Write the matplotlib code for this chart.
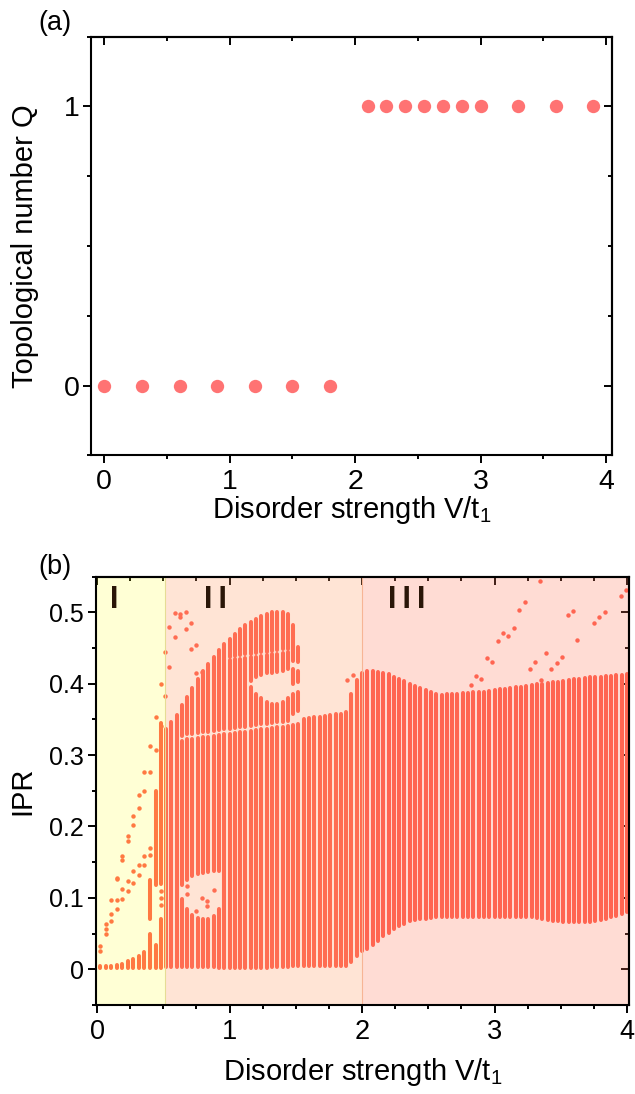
import numpy as np
import matplotlib
matplotlib.use("Agg")
import matplotlib.pyplot as plt
from matplotlib.ticker import MultipleLocator, NullFormatter, FuncFormatter

plt.rcParams["font.family"] = ["Liberation Sans", "DejaVu Sans"]
plt.rcParams["mathtext.fontset"] = "custom"
plt.rcParams["mathtext.rm"] = "Liberation Sans"
plt.rcParams["mathtext.default"] = "regular"

# ---- panel (a): topological number ----
va = [0, 0.3, 0.6, 0.9, 1.2, 1.5, 1.8, 2.1, 2.25, 2.4, 2.55, 2.7, 2.85, 3.0, 3.3, 3.6, 3.9]
qa = [0, 0, 0, 0, 0, 0, 0, 1, 1, 1, 1, 1, 1, 1, 1, 1, 1]

# ---- panel (b): IPR ----
# region I columns (small V)
reg1_x = [0.025, 0.067, 0.108, 0.15, 0.192, 0.233, 0.275, 0.317, 0.358, 0.40, 0.442, 0.484]
reg1_lo = [0.002, 0.002, 0.002, 0.002, 0.002, 0.002, 0.002, 0.002, 0.002, 0.002, 0.002, 0.002]
reg1_hi = [0.004, 0.004, 0.005, 0.006, 0.008, 0.011, 0.015, 0.019, 0.024, 0.05, 0.034, 0.07]
# extra column pieces in region I
ext_x = [0.40, 0.442, 0.484]
ext_lo = [0.07, 0.118, 0.12]
ext_hi = [0.125, 0.25, 0.345]

# main band, one column every 0.04 from 0.52 to 4.00
band_lo = [0.003, 0.003, 0.003, 0.003, 0.003, 0.003, 0.003, 0.003, 0.003, 0.003,
           0.002, 0.002, 0.002, 0.002, 0.002, 0.002, 0.002, 0.002, 0.002, 0.002,
           0.003, 0.003, 0.003, 0.003, 0.004, 0.004, 0.004, 0.004, 0.004, 0.004,
           0.004, 0.004, 0.004, 0.005, 0.005,
           0.010, 0.018, 0.025, 0.029, 0.034, 0.040, 0.046, 0.051, 0.056, 0.060,
           0.064, 0.067, 0.069, 0.070, 0.071, 0.072,
           0.073, 0.073, 0.073, 0.073, 0.073, 0.073, 0.073, 0.073, 0.073, 0.073,
           0.073, 0.073, 0.073, 0.073, 0.073, 0.073, 0.073, 0.073, 0.073,
           0.072, 0.070, 0.069, 0.068, 0.067, 0.066, 0.066, 0.066, 0.066, 0.066,
           0.066, 0.067, 0.069, 0.071, 0.073, 0.075, 0.078, 0.080]
band_hi = [0.337, 0.347, 0.356,
           0.320, 0.322, 0.323, 0.324, 0.325, 0.326, 0.327, 0.328, 0.329, 0.330,
           0.331, 0.332, 0.333, 0.334, 0.335, 0.336, 0.337, 0.338, 0.339, 0.340,
           0.341, 0.342, 0.343, 0.350,
           0.352, 0.353, 0.354, 0.355, 0.356, 0.357, 0.358, 0.360,
           0.385, 0.405, 0.415, 0.418, 0.418, 0.417, 0.415, 0.413, 0.410, 0.407,
           0.404, 0.400, 0.397, 0.394, 0.391, 0.388, 0.385, 0.384,
           0.385, 0.386, 0.386, 0.387, 0.387, 0.388, 0.388, 0.389, 0.390, 0.391,
           0.392, 0.393, 0.394, 0.395, 0.396, 0.397, 0.398, 0.399, 0.400, 0.401,
           0.402, 0.403, 0.404, 0.405, 0.406, 0.407, 0.408, 0.409, 0.410, 0.410,
           0.411, 0.411, 0.412, 0.412, 0.413]
band_x = np.round(0.52 + 0.04 * np.arange(len(band_lo)), 2)

# dome above the band (0.64 .. 1.52)
dome_x = [0.64, 0.68, 0.72, 0.76, 0.80, 0.84, 0.88, 0.92, 0.96, 1.00, 1.04, 1.08,
          1.12, 1.16, 1.20, 1.24, 1.28, 1.32, 1.36, 1.40, 1.44, 1.48, 1.52]
dome_lo = [0.327, 0.329, 0.330, 0.331, 0.332, 0.333, 0.334, 0.335, 0.336, 0.337,
           0.338, 0.339, 0.340, 0.341, 0.342, 0.343, 0.344, 0.345, 0.346, 0.347,
           0.348, 0.358, 0.362]
dome_hi = [0.370, 0.382, 0.394, 0.406, 0.418, 0.428, 0.438, 0.447, 0.455, 0.462,
           0.469, 0.476, 0.482, 0.487, 0.491, 0.495, 0.498, 0.500, 0.501, 0.501,
           0.497, 0.482, 0.452]

# empty stretches inside columns (V, from, to)
gap_x = [0.64, 0.68, 0.72, 0.76, 0.80, 0.84, 0.88, 0.92,
         1.16, 1.20, 1.24, 1.28, 1.32, 1.36, 1.40, 1.44,
         1.00, 1.04, 1.08, 1.12, 1.16, 1.20, 1.24, 1.28, 1.32, 1.36, 1.40, 1.44,
         1.48, 1.48, 1.52, 1.52]
gap_lo = [0.098, 0.085, 0.076, 0.072, 0.070, 0.070, 0.074, 0.085,
          0.395, 0.386, 0.380, 0.375, 0.372, 0.372, 0.375, 0.380,
          0.433, 0.434, 0.435, 0.436, 0.437, 0.438, 0.439, 0.440, 0.441, 0.442, 0.443, 0.444,
          0.385, 0.420, 0.388, 0.418]
gap_hi = [0.118, 0.125, 0.130, 0.133, 0.135, 0.136, 0.137, 0.137,
          0.404, 0.410, 0.412, 0.415, 0.415, 0.417, 0.418, 0.420,
          0.438, 0.439, 0.440, 0.441, 0.442, 0.443, 0.444, 0.445, 0.446, 0.447, 0.448, 0.449,
          0.400, 0.432, 0.402, 0.430]

# isolated states
out_x = [0.025, 0.025, 0.067, 0.067, 0.067, 0.108, 0.108, 0.108, 0.15, 0.15, 0.15, 0.15,
         0.192, 0.192, 0.192, 0.192, 0.233, 0.233, 0.233, 0.233, 0.275, 0.275, 0.275, 0.275,
         0.317, 0.317, 0.317, 0.317, 0.358, 0.358, 0.358, 0.358, 0.40, 0.40, 0.40, 0.40,
         0.442, 0.442, 0.484, 0.484, 0.484, 0.484, 0.484,
         0.51, 0.51, 0.545, 0.545, 0.59, 0.59, 0.63, 0.63, 0.67, 0.67, 0.71, 0.71,
         0.75, 0.75, 0.79,
         0.677, 0.677, 0.79, 0.83, 0.83, 0.88, 0.75,
         1.89, 1.93,
         2.82, 2.857, 2.90, 2.942, 2.982, 3.023, 3.062, 3.102, 3.146, 3.188, 3.228,
         3.265, 3.305, 3.346, 3.348, 3.388, 3.429, 3.471, 3.511, 3.553, 3.589, 3.621,
         3.747, 3.79, 3.835, 3.955, 3.99]
out_y = [0.026, 0.032, 0.049, 0.057, 0.064, 0.067, 0.077, 0.097, 0.085, 0.097, 0.126, 0.128,
         0.098, 0.112, 0.153, 0.158, 0.110, 0.123, 0.179, 0.187, 0.121, 0.137, 0.202, 0.215,
         0.132, 0.146, 0.226, 0.244, 0.146, 0.158, 0.250, 0.276, 0.160, 0.170, 0.276, 0.313,
         0.307, 0.353, 0.341, 0.399, 0.090, 0.100, 0.110,
         0.444, 0.383, 0.424, 0.480, 0.499, 0.465, 0.497, 0.493, 0.500, 0.477, 0.485, 0.448,
         0.454, 0.415, 0.417,
         0.116, 0.105, 0.100, 0.095, 0.088, 0.111, 0.082,
         0.405, 0.412,
         0.398, 0.411, 0.406, 0.436, 0.431, 0.460, 0.471, 0.467, 0.478, 0.503, 0.514,
         0.420, 0.430, 0.544, 0.405, 0.443, 0.421, 0.429, 0.437, 0.496, 0.502, 0.461,
         0.485, 0.493, 0.500, 0.523, 0.531]

regions = [(0.0, 0.51, "#ffff00", 0.165, "I", 0.13),
           (0.51, 2.0, "#ff975b", 0.25, "I\u2009I", 0.89),
           (2.0, 4.1, "#ff7757", 0.25, "I\u2009I\u2009I", 2.34)]

dot = "#ff5f50"

fig = plt.figure(figsize=(6.35, 10.94), dpi=100)
ax1 = fig.add_axes([0.1433, 0.5838, 0.8205, 0.3827])
ax2 = fig.add_axes([0.1507, 0.0814, 0.8399, 0.3915])


def frame(ax, xmaj, xmin, ymaj, ymin, xs, ys):
    ax.xaxis.set_major_locator(MultipleLocator(xmaj))
    ax.xaxis.set_minor_locator(MultipleLocator(xmin))
    ax.yaxis.set_major_locator(MultipleLocator(ymaj))
    ax.yaxis.set_minor_locator(MultipleLocator(ymin))
    ax.tick_params(which="both", direction="out", width=1.4, top=False, right=False)
    ax.tick_params(which="major", length=5.8)
    ax.tick_params(which="minor", length=3.0)
    ax.tick_params(axis="x", labelsize=xs, pad=4)
    ax.tick_params(axis="y", labelsize=ys, pad=2.5)
    for s in ax.spines.values():
        s.set_linewidth(1.5)
    top = ax.secondary_xaxis("top")
    top.xaxis.set_major_locator(MultipleLocator(xmaj))
    top.xaxis.set_minor_locator(MultipleLocator(xmin))
    top.xaxis.set_major_formatter(NullFormatter())
    top.tick_params(which="both", direction="in", width=1.4)
    top.tick_params(which="major", length=5.8)
    top.tick_params(which="minor", length=3.0)
    top.spines["top"].set_linewidth(1.5)
    right = ax.secondary_yaxis("right")
    right.yaxis.set_major_locator(MultipleLocator(ymaj))
    right.yaxis.set_minor_locator(MultipleLocator(ymin))
    right.yaxis.set_major_formatter(NullFormatter())
    right.tick_params(which="both", direction="in", width=1.4)
    right.tick_params(which="major", length=5.8)
    right.tick_params(which="minor", length=3.0)
    right.spines["right"].set_linewidth(1.5)


# (a)
ax1.plot(va, qa, "o", color="#ff7373", ms=9.6, mew=0, clip_on=False)
ax1.set_xlim(-0.106, 4.048)
ax1.set_ylim(-0.25, 1.25)
frame(ax1, 1, 0.5, 1, 0.25, 20.5, 20.5)
ax1.set_xlabel("Disorder strength V/t$_{1}$", fontsize=21, labelpad=-1)
ax1.set_ylabel("Topological number Q", fontsize=21)
ax1.yaxis.set_label_coords(-0.10, 0.5)
fig.text(0.061, 1 - 22.5 / 1094, "(a)", fontsize=19.5, va="center", ha="left")

# (b)
col_kw = dict(color=dot, lw=2.9, zorder=2)


def columns(x, lo, hi):
    lc = ax2.vlines(x, lo, hi, **col_kw)
    lc.set_capstyle("round")


columns(reg1_x, reg1_lo, reg1_hi)
columns(ext_x, ext_lo, ext_hi)

# split each column of the band and of the dome at its empty stretches
gaps = {}
for x, a, b in zip(gap_x, gap_lo, gap_hi):
    gaps.setdefault(round(x, 2), []).append((a, b))
seg_x, seg_lo, seg_hi = [], [], []
pieces = list(zip(band_x, band_lo, band_hi)) + list(zip(dome_x, dome_lo, dome_hi))
for x, a, b in pieces:
    start = a
    for g0, g1 in sorted(gaps.get(round(float(x), 2), [])):
        if a < g0 and g1 < b:
            seg_x.append(x)
            seg_lo.append(start)
            seg_hi.append(g0)
            start = g1
    seg_x.append(x)
    seg_lo.append(start)
    seg_hi.append(b)
columns(seg_x, seg_lo, seg_hi)

ax2.plot(out_x, out_y, "o", color=dot, ms=3.2, mew=0, zorder=2)

for x0, x1, c, a, lab, tx in regions:
    ax2.axvspan(x0, x1, color=c, alpha=a, lw=0, zorder=2.2)
    ax2.text(tx, 0.517, lab, fontsize=22, fontweight="bold", color="#2a1608",
             ha="center", va="center", zorder=4)
ax2.axvline(0.51, color="#e6dc95", lw=0.8, zorder=2.3)
ax2.axvline(2.0, color="#f7b595", lw=0.8, zorder=2.3)

ax2.set_xlim(-0.01, 4.015)
ax2.set_ylim(-0.05, 0.55)
frame(ax2, 1, 0.25, 0.1, 0.05, 19.5, 18)
ax2.yaxis.set_major_formatter(FuncFormatter(lambda v, p: "0" if abs(v) < 1e-9 else f"{v:.1f}"))
ax2.set_xlabel("Disorder strength V/t$_{1}$", fontsize=21, labelpad=8)
ax2.set_ylabel("IPR", fontsize=21)
ax2.yaxis.set_label_coords(-0.112, 0.5)
fig.text(0.061, 1 - 567.5 / 1094, "(b)", fontsize=19.5, va="center", ha="left")

fig.savefig("out.png", dpi=100)
